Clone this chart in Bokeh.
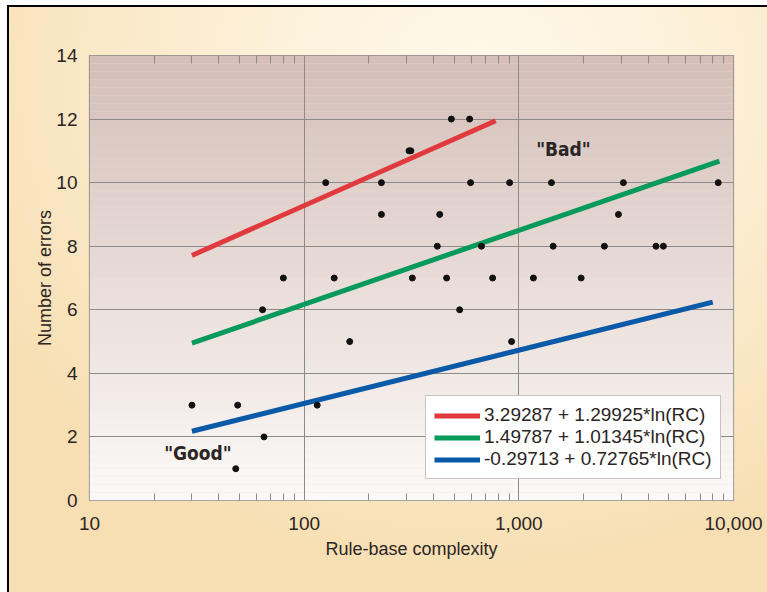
import numpy as np
from bokeh.plotting import figure
from bokeh.models import BoxAnnotation, FixedTicker, NumeralTickFormatter, Range1d, LogAxis
from bokeh.core.properties import value
from bokeh.embed import file_html
from bokeh.resources import INLINE

# ---- data ----
x_major_ticks = [10, 100, 1000, 10000]
y_ticks = [0, 2, 4, 6, 8, 10, 12, 14]

pts_x = [48, 65, 30, 49, 115, 163, 925, 64, 530, 80, 138, 319, 461, 755, 1169, 1951,
         417, 670, 1445, 2504, 4355, 4712, 229, 428, 2911,
         126, 229, 596, 906, 1419, 3070, 8487, 308, 314, 485, 590]
pts_y = [1, 2, 3, 3, 3, 5, 5, 6, 6, 7, 7, 7, 7, 7, 7, 7,
         8, 8, 8, 8, 8, 8, 9, 9, 9,
         10, 10, 10, 10, 10, 10, 10, 11, 11, 12, 12]

red_x = [30, 780]
red_y = [7.71, 11.95]
green_x = [30, 8600]
green_y = [4.95, 10.68]
blue_x = [30, 8000]
blue_y = [2.18, 6.24]

fit_labels = ["3.29287 + 1.29925*ln(RC)",
              "1.49787 + 1.01345*ln(RC)",
              "-0.29713 + 0.72765*ln(RC)"]

note_text = ['"Bad"', '"Good"']
note_x = [1614, 32]
note_y = [11.07, 1.48]

# ---- styling ----
FONT = "Liberation Sans"
NARROW = "DejaVu Sans Condensed"
TXT = "#2b2523"

p = figure(width=767, height=592, x_axis_type="log",
           x_range=Range1d(10, 10000), y_range=Range1d(0, 14),
           output_backend="svg", toolbar_location=None,
           min_border_left=89, min_border_right=34,
           min_border_top=55, min_border_bottom=92)

p.border_fill_color = None
p.background_fill_color = "#ebe1dd"
p.outline_line_color = "#8e8886"
p.outline_line_width = 1.2
p.styles = {
    "background": ("linear-gradient(#000,#000) 7px 5px / 2px 100% no-repeat, "
                   "linear-gradient(#000,#000) 7px 5px / 100% 2px no-repeat, "
                   "radial-gradient(ellipse 75% 85% at 62% 12%, #fef9ec 0%, #fcefd5 45%, #f7dfb3 100%) "
                   "9px 7px / 758px 585px no-repeat, #ffffff"),
}

# plot-area vertical gradient (bottom near white, top rosy tan)
c_bot = np.array([252, 250, 248])
c_top = np.array([213, 191, 184])
nb = 56
for i in range(nb):
    t = (i + 0.5) / nb
    c = (c_bot * (1 - t) + c_top * t).astype(int)
    p.add_layout(BoxAnnotation(bottom=14 * i / nb, top=14 * (i + 1) / nb,
                               fill_color="#%02x%02x%02x" % tuple(c), fill_alpha=1,
                               line_color=None, level="image"))

minor = [m * d for d in [10, 100, 1000] for m in range(2, 10)]
xt = FixedTicker(ticks=x_major_ticks, minor_ticks=minor)

p.xaxis.ticker = xt
p.xaxis.formatter = NumeralTickFormatter(format="0,0")
p.yaxis.ticker = FixedTicker(ticks=y_ticks)
p.xgrid.ticker = xt
p.ygrid.ticker = FixedTicker(ticks=y_ticks)
for g in (p.xgrid, p.ygrid):
    g.grid_line_color = "#8f8987"
    g.grid_line_width = 1

for ax in (p.xaxis, p.yaxis):
    ax.axis_line_color = None
    ax.major_tick_line_color = None
    ax.major_label_text_font = FONT
    ax.major_label_text_font_size = "19px"
    ax.major_label_text_color = TXT
    ax.axis_label_text_font = FONT
    ax.axis_label_text_font_size = "18px"
    ax.axis_label_text_font_style = "normal"
    ax.axis_label_text_color = TXT

p.xaxis.minor_tick_in = 7
p.xaxis.minor_tick_out = 0
p.xaxis.minor_tick_line_color = "#8f8987"
p.xaxis.major_label_standoff = 10
p.xaxis.axis_label = "Rule-base complexity"
p.xaxis.axis_label_standoff = 6

p.yaxis.minor_tick_line_color = None
p.yaxis.major_label_standoff = 6
p.yaxis.axis_label = "Number of errors"
p.yaxis.axis_label_standoff = -2

top_axis = LogAxis(ticker=xt, axis_line_color=None, major_tick_line_color=None,
                   minor_tick_in=8, minor_tick_out=0, minor_tick_line_color="#8f8987",
                   major_label_text_color=None, major_label_text_font_size="10px",
                   major_label_standoff=2)
p.add_layout(top_axis, "above")

p.line(red_x, red_y, line_color="#e03a3e", line_width=5, legend_label=fit_labels[0])
p.line(green_x, green_y, line_color="#079a5a", line_width=5, legend_label=fit_labels[1])
p.line(blue_x, blue_y, line_color="#0a5aa8", line_width=5, legend_label=fit_labels[2])

p.scatter(pts_x, pts_y, size=6, color="#111111")

p.text(note_x, note_y, text=note_text, text_font=value(NARROW),
       text_font_style="bold", text_font_size="19px", text_color=TXT,
       text_align="center", text_baseline="middle")

lg = p.legend[0]
lg.location = (336, 21)
lg.label_text_font = FONT
lg.label_text_font_size = "19px"
lg.label_text_color = TXT
lg.glyph_width = 46
lg.glyph_height = 21
lg.label_height = 21
lg.label_standoff = 4
lg.spacing = 0
lg.padding = 8
lg.margin = 0
lg.border_line_color = "#8e8886"
lg.border_line_width = 1.5
lg.background_fill_color = "white"
lg.background_fill_alpha = 1

open("out.html", "w").write(file_html(p, INLINE))
